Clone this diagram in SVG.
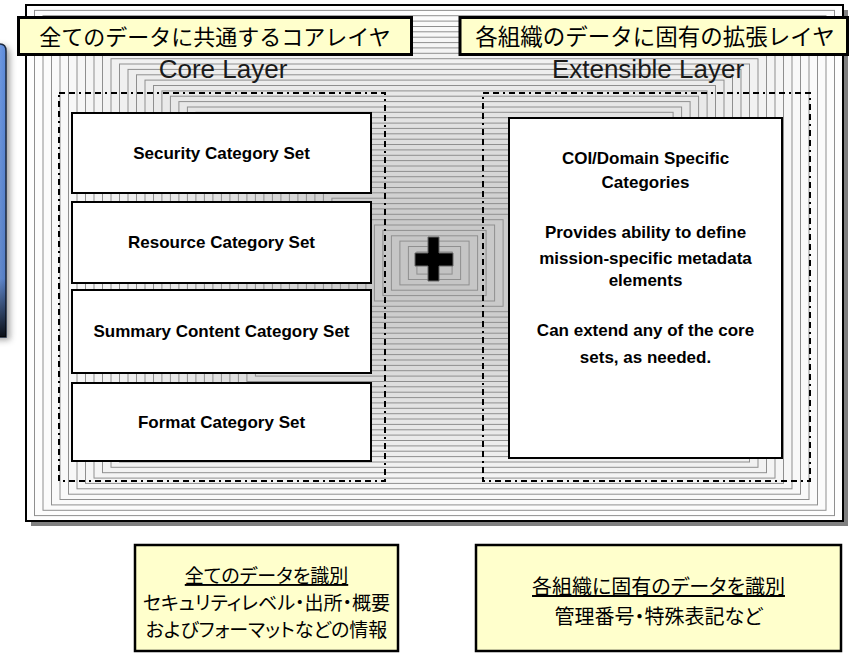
<svg xmlns="http://www.w3.org/2000/svg" width="859" height="664" viewBox="0 0 859 664">
  <defs>
    <style>
      .jp { font-family: "Noto Sans CJK JP", "Noto Sans CJK SC", sans-serif; fill: #000; }
      .en { font-family: "Liberation Sans", Arial, sans-serif; fill: #000; }
      .title { font-size: 22px; }
      .layer { font-size: 26px; fill: #1a1a1a; }
      .cat { font-size: 17px; font-weight: bold; text-anchor: middle; }
      .note { font-size: 19px; text-anchor: middle; font-feature-settings: "palt"; }
      .note-lg { font-size: 20px; }
      .box { fill: #fff; stroke: #000; stroke-width: 2; }
      .label { fill: #ffffcc; stroke: #000; stroke-width: 3; }
      .note-box { fill: #ffffcc; stroke: #000; stroke-width: 2.5; }
      .zone { fill: none; stroke: #000; stroke-width: 2; stroke-dasharray: 6 4 6 4 2 4; }
      .ring rect { stroke: #8f8f8f; stroke-width: 1; }
    </style>
    <linearGradient id="tabFill" x1="0" y1="0" x2="1" y2="0">
      <stop offset="0" stop-color="#8db2ee"/>
      <stop offset="1" stop-color="#5a88d8"/>
    </linearGradient>
    <linearGradient id="tabDark" x1="0" y1="0" x2="0" y2="1">
      <stop offset="0" stop-color="#000" stop-opacity="0"/>
      <stop offset="0.8" stop-color="#000" stop-opacity="0.1"/>
      <stop offset="1" stop-color="#000" stop-opacity="0.9"/>
    </linearGradient>
    <filter id="soft" x="-1" y="-0.2" width="3" height="1.4">
      <feGaussianBlur stdDeviation="3"/>
    </filter>
  </defs>

  <!-- edge of a neighbouring blue panel -->
  <g id="side-tab">
    <path d="M-10 46 L1 46 Q10 46 10 55 L10 340 L-10 340 Z" fill="#555" opacity="0.55" filter="url(#soft)"/>
    <path d="M-10 44 L0 44 Q6 44 6 51 L6 337 L-10 337 Z" fill="url(#tabFill)" stroke="#1c2a40" stroke-width="1.5"/>
    <path d="M-10 44 L0 44 Q6 44 6 51 L6 337 L-10 337 Z" fill="url(#tabDark)"/>
  </g>

  <!-- outer frame with drop shadow -->
  <g id="frame">
    <rect x="31" y="10" width="817" height="516" fill="#808080"/>
    <rect x="26" y="5" width="817" height="516" fill="#fefefe"/>
    <!-- stepped shading toward the centre -->
    <g class="ring">
      <rect x="34.5" y="10.4" width="800" height="505.2" fill="#fdfdfd"/>
      <rect x="43" y="15.7" width="783" height="494.6" fill="#fbfbfb"/>
      <rect x="51.5" y="21.1" width="766" height="483.8" fill="#fafafa"/>
      <rect x="60" y="26.5" width="749" height="473" fill="#f9f9f9"/>
      <rect x="68.5" y="31.8" width="732" height="462.4" fill="#f8f8f8"/>
      <rect x="77" y="37.2" width="715" height="451.6" fill="#f6f6f6"/>
      <rect x="85.5" y="42.6" width="698" height="440.8" fill="#f5f5f5"/>
      <rect x="94" y="47.9" width="681" height="430.2" fill="#f4f4f4"/>
      <rect x="102.5" y="53.3" width="664" height="419.4" fill="#f2f2f2"/>
      <rect x="111" y="58.7" width="647" height="408.6" fill="#f1f1f1"/>
      <rect x="119.5" y="64" width="630" height="398" fill="#f0f0f0"/>
      <rect x="128" y="69.4" width="613" height="387.2" fill="#eeeeee"/>
      <rect x="136.5" y="74.8" width="596" height="376.4" fill="#ededed"/>
      <rect x="145" y="80.1" width="579" height="365.8" fill="#ececec"/>
      <rect x="153.5" y="85.5" width="562" height="355" fill="#eaeaea"/>
      <rect x="161.9" y="90.9" width="545.2" height="344.2" fill="#e9e9e9"/>
      <rect x="170.4" y="96.2" width="528.2" height="333.6" fill="#e8e8e8"/>
      <rect x="178.9" y="101.6" width="511.2" height="322.8" fill="#e7e7e7"/>
      <rect x="187.4" y="107" width="494.2" height="312" fill="#e5e5e5"/>
      <rect x="195.9" y="112.3" width="477.2" height="301.4" fill="#e4e4e4"/>
      <rect x="204.4" y="117.7" width="460.2" height="290.6" fill="#e3e3e3"/>
      <rect x="212.9" y="123.1" width="443.2" height="279.8" fill="#e1e1e1"/>
      <rect x="221.4" y="128.4" width="426.2" height="269.2" fill="#e0e0e0"/>
      <rect x="229.9" y="133.8" width="409.2" height="258.4" fill="#dfdfdf"/>
      <rect x="238.4" y="139.2" width="392.2" height="247.6" fill="#dedede"/>
      <rect x="246.9" y="144.5" width="375.2" height="237" fill="#dcdcdc"/>
      <rect x="255.4" y="149.9" width="358.2" height="226.2" fill="#dbdbdb"/>
      <rect x="263.9" y="155.3" width="341.2" height="215.4" fill="#dadada"/>
      <rect x="272.4" y="160.6" width="324.2" height="204.8" fill="#d8d8d8"/>
      <rect x="280.9" y="166" width="307.2" height="194" fill="#d7d7d7"/>
      <rect x="289.4" y="171.4" width="290.2" height="183.2" fill="#d6d6d6"/>
      <rect x="297.9" y="176.7" width="273.2" height="172.6" fill="#d4d4d4"/>
      <rect x="306.4" y="182.1" width="256.2" height="161.8" fill="#d3d3d3"/>
      <rect x="314.9" y="187.5" width="239.2" height="151" fill="#d2d2d2"/>
      <rect x="323.4" y="192.8" width="222.2" height="140.4" fill="#d1d1d1"/>
      <rect x="331.9" y="198.2" width="205.2" height="129.6" fill="#cfcfcf"/>
      <rect x="340.4" y="203.6" width="188.2" height="118.8" fill="#cecece"/>
      <rect x="348.9" y="208.9" width="171.2" height="108.2" fill="#cdcdcd"/>
      <rect x="357.4" y="214.3" width="154.2" height="97.4" fill="#cbcbcb"/>
      <rect x="365.9" y="219.7" width="137.2" height="86.6" fill="#cacaca"/>
      <rect x="374.4" y="225" width="120.2" height="76" fill="#c9c9c9"/>
      <rect x="382.9" y="230.4" width="103.2" height="65.2" fill="#c7c7c7"/>
      <rect x="391.4" y="235.8" width="86.2" height="54.4" fill="#c6c6c6"/>
      <rect x="399.9" y="241.1" width="69.2" height="43.8" fill="#c5c5c5"/>
      <rect x="408.4" y="246.5" width="52.2" height="33" fill="#c4c4c4"/>
      <rect x="416.9" y="251.9" width="35.2" height="22.2" fill="#c2c2c2"/>
    </g>
    <rect x="26" y="5" width="817" height="516" fill="none" stroke="#000" stroke-width="2"/>
  </g>

  <!-- layer captions -->
  <g id="core-caption">
    <rect class="label" x="18.5" y="17.5" width="393" height="37"/>
    <text class="jp title" x="215" y="45" text-anchor="middle">全てのデータに共通するコアレイヤ</text>
    <text class="en layer" x="223" y="78" text-anchor="middle">Core Layer</text>
  </g>
  <g id="extensible-caption">
    <rect class="label" x="460" y="17.5" width="387.5" height="37"/>
    <text class="jp title" x="655" y="45" text-anchor="middle" style="font-size:22.5px">各組織のデータに固有の拡張レイヤ</text>
    <text class="en layer" x="648" y="78" text-anchor="middle">Extensible Layer</text>
  </g>

  <!-- dashed layer outlines -->
  <g id="core-layer">
    <rect class="zone" x="59" y="93" width="326" height="388"/>
  </g>
  <g id="extensible-layer">
    <rect class="zone" x="483" y="93" width="327" height="388"/>
  </g>

  <!-- core category sets -->
  <g id="security-set">
    <rect class="box" x="72" y="113" width="299" height="80"/>
    <text class="en cat" x="221.5" y="159">Security Category Set</text>
  </g>
  <g id="resource-set">
    <rect class="box" x="72" y="202" width="299" height="81"/>
    <text class="en cat" x="221.5" y="248">Resource Category Set</text>
  </g>
  <g id="summary-set">
    <rect class="box" x="72" y="290" width="299" height="83"/>
    <text class="en cat" x="221.5" y="337">Summary Content Category Set</text>
  </g>
  <g id="format-set">
    <rect class="box" x="72" y="383" width="299" height="78"/>
    <text class="en cat" x="221.5" y="428">Format Category Set</text>
  </g>

  <!-- plus sign joining the two layers -->
  <g id="plus">
    <path d="M428 237 H439 V253 H453 V266 H439 V281 H428 V266 H415 V253 H428 Z" fill="#000" stroke="#666" stroke-width="1"/>
  </g>

  <!-- extension categories -->
  <g id="coi-categories">
    <rect class="box" x="509" y="118" width="273" height="340"/>
    <text class="en cat" x="645.5" y="164">COI/Domain Specific</text>
    <text class="en cat" x="645.5" y="188">Categories</text>
    <text class="en cat" x="645.5" y="238">Provides ability to define</text>
    <text class="en cat" x="645.5" y="264">mission-specific metadata</text>
    <text class="en cat" x="645.5" y="286">elements</text>
    <text class="en cat" x="645.5" y="336">Can extend any of the core</text>
    <text class="en cat" x="645.5" y="363">sets, as needed.</text>
  </g>

  <!-- explanatory notes -->
  <g id="core-note">
    <rect class="note-box" x="135" y="545" width="263" height="106"/>
    <text class="jp note" x="266.5" y="583" text-decoration="underline">全てのデータを識別</text>
    <text class="jp note" x="266.5" y="610">セキュリティレベル・出所・概要</text>
    <text class="jp note" x="266.5" y="637">およびフォーマットなどの情報</text>
  </g>
  <g id="extensible-note">
    <rect class="note-box" x="476" y="545" width="365" height="106"/>
    <text class="jp note note-lg" x="658.5" y="594" text-decoration="underline">各組織に固有のデータを識別</text>
    <text class="jp note note-lg" x="658.5" y="624">管理番号・特殊表記など</text>
  </g>
</svg>
